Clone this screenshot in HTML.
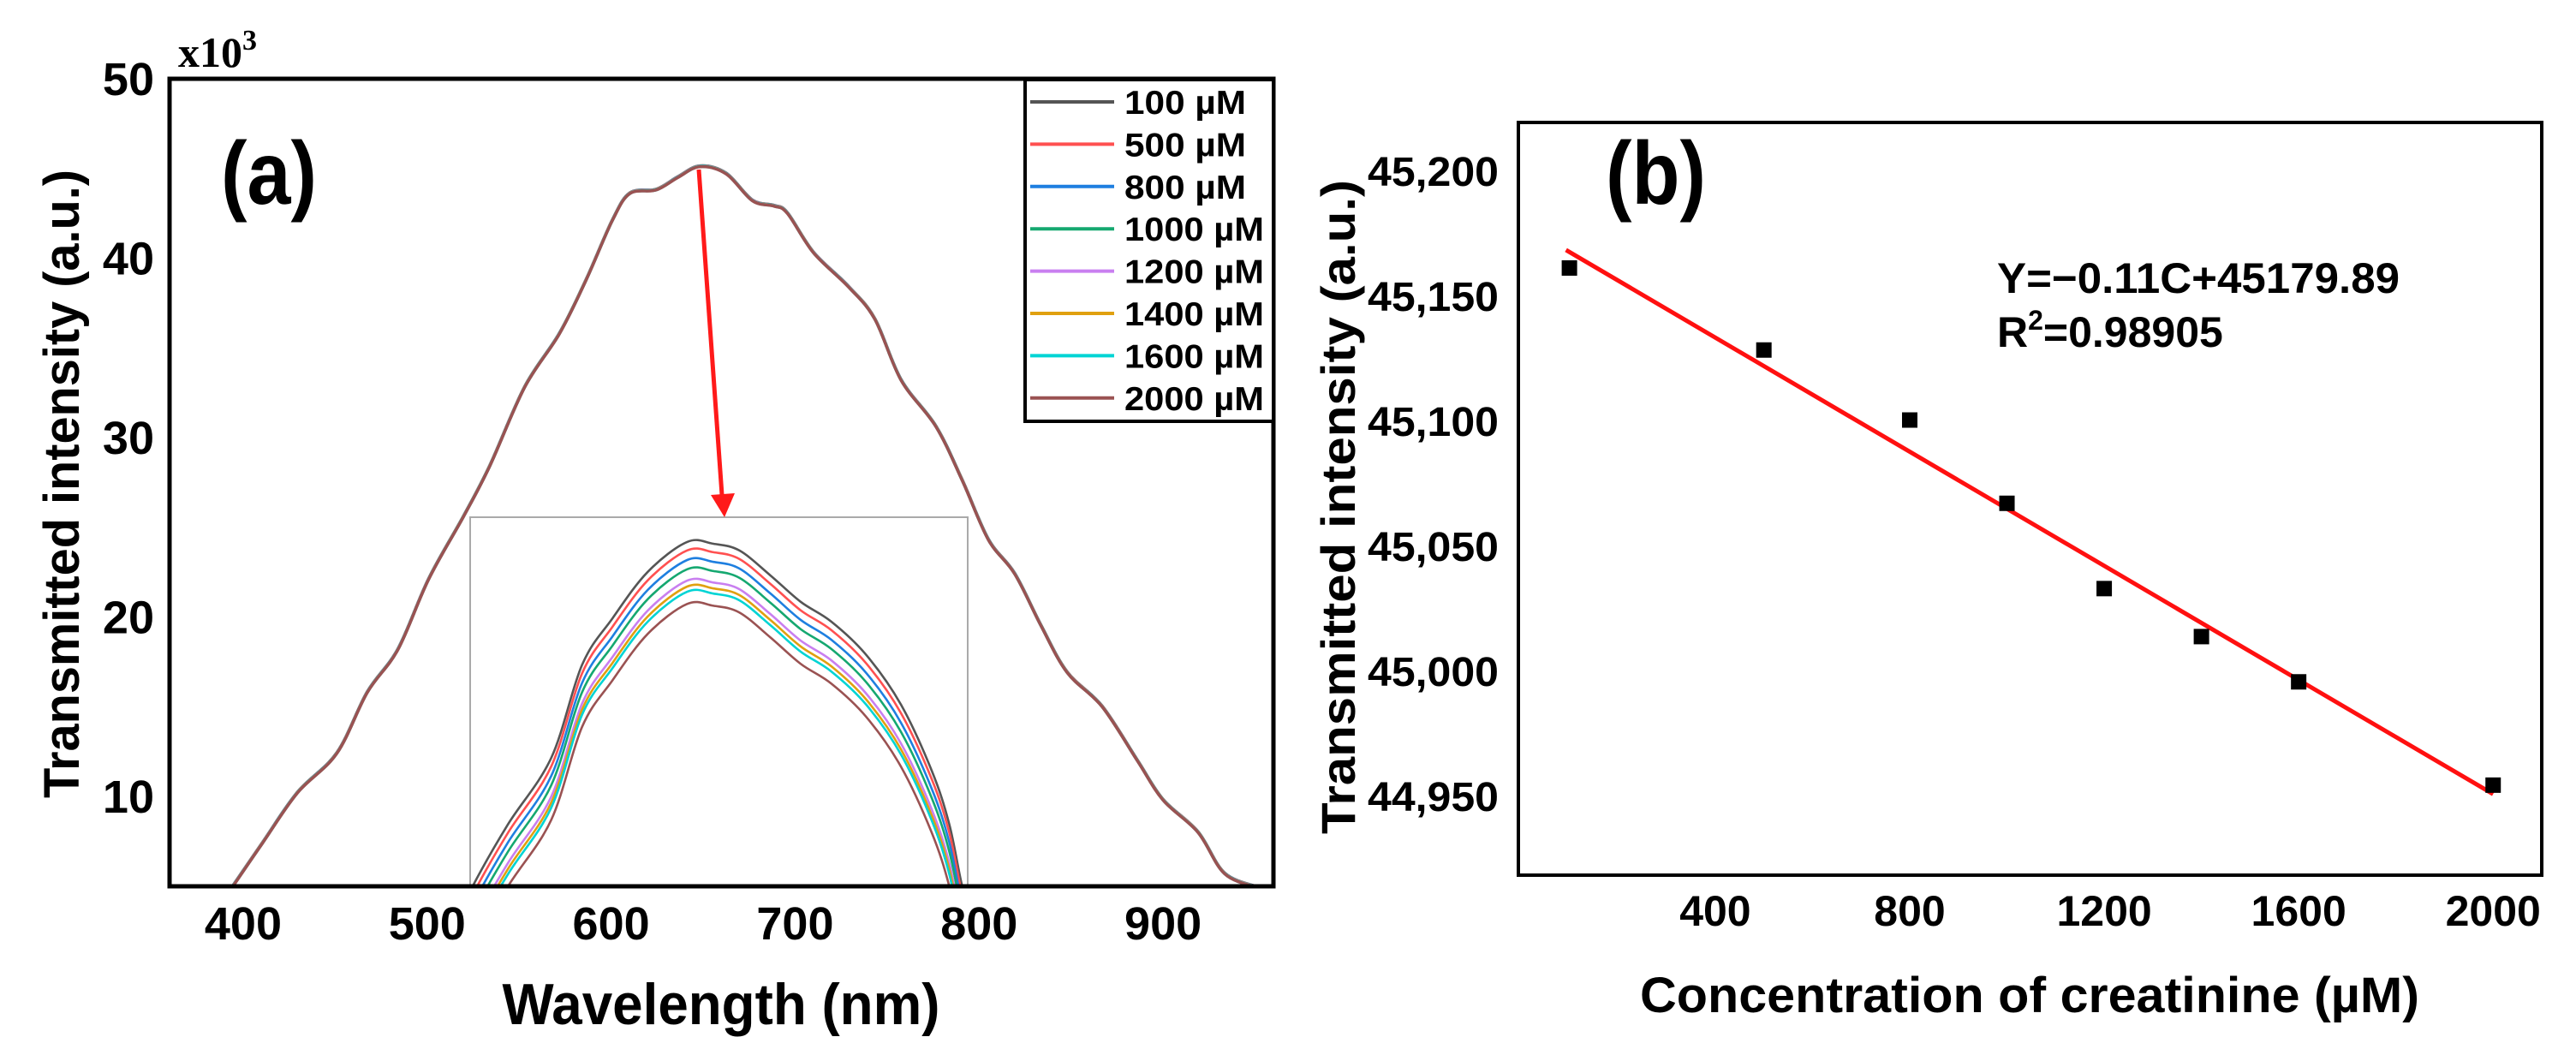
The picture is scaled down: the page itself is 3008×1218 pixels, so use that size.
<!DOCTYPE html>
<html><head><meta charset="utf-8"><style>
html,body{margin:0;padding:0;background:#fff;}
svg{display:block;font-family:"Liberation Sans",Arial,sans-serif;font-weight:bold;}
</style></head><body>
<svg id="fig" width="3008" height="1218" viewBox="0 0 3008 1218" xmlns="http://www.w3.org/2000/svg">
<g id="pa"></g>
<g id="pb"></g>
</svg>
<script>
// ---------- Panel (a) data ----------
const aWavelength=[393.8,410.5,429.5,450.9,467.5,484.2,500.8,519.8,534,553,572,586.5,600.7,610.2,624.5,636.3,648.2,662.5,676.8,688.6,695.8,710,729,743.3,757.6,776.6,790.9,805.1,819.4,833.7,847.9,866.9,886,900,919,933.4,952];
const aIntensity=[4.9,7.4,10.2,12.4,15.8,18.2,22.1,25.6,28.4,32.8,35.8,38.8,42.1,43.6,43.8,44.5,45.1,44.7,43.2,42.9,42.5,40.3,38.4,36.6,33.2,30.6,27.6,24.3,22.4,19.5,16.9,15,12,9.8,8,5.7,4.9];
const aXTicks=[400,500,600,700,800,900];
const aYTicks=[10,20,30,40,50];
const seriesLabels=["100 µM","500 µM","800 µM","1000 µM","1200 µM","1400 µM","1600 µM","2000 µM"];
const seriesColors=["#555555","#ff5050","#1e7fe0","#15a870","#c97ff0","#e0a010","#00d4d4","#9a5252"];
// inset (zoomed) curve, relative units 0-100
const insetX=[-2,0.5,7.6,16.3,22.5,28.6,35.7,43.6,48.9,54.1,60.3,66.4,72.6,79.6,86.6,92.8,96.3,98.9,101];
const insetY=[-8,0,16.8,34.8,60,72.6,85.2,93.3,92.8,91,84.3,77.1,71.7,62.7,49.2,31.2,16.8,0,-8];
const insetOffsets=[0,-2.3,-4.9,-7.4,-10.5,-12.1,-13.5,-16.8];
// ---------- Panel (b) data ----------
const bConc=[100,500,800,1000,1200,1400,1600,2000];
const bIntensity=[45161.3,45128.5,45100.5,45067.2,45033.1,45013.9,44995.8,44954.5];
const bXTicks=[400,800,1200,1600,2000];
const bYTicks=[44950,45000,45050,45100,45150,45200];
const bYTickLabels=["44,950","45,000","45,050","45,100","45,150","45,200"];

const NS="http://www.w3.org/2000/svg";
function mk(parent,tag,attrs,text){const e=document.createElementNS(NS,tag);for(const k in attrs)e.setAttribute(k,attrs[k]);if(text!==undefined)e.textContent=text;parent.appendChild(e);return e;}
function smooth(pts){
  let d='M'+pts[0][0].toFixed(1)+','+pts[0][1].toFixed(1);
  for(let i=0;i<pts.length-1;i++){
    const p0=pts[Math.max(0,i-1)],p1=pts[i],p2=pts[i+1],p3=pts[Math.min(pts.length-1,i+2)];
    const c1=[p1[0]+(p2[0]-p0[0])/6,p1[1]+(p2[1]-p0[1])/6];
    const c2=[p2[0]-(p3[0]-p1[0])/6,p2[1]-(p3[1]-p1[1])/6];
    d+=' C'+c1[0].toFixed(1)+','+c1[1].toFixed(1)+' '+c2[0].toFixed(1)+','+c2[1].toFixed(1)+' '+p2[0].toFixed(1)+','+p2[1].toFixed(1);
  }
  return d;
}

// ----- Panel a -----
const pa=document.getElementById('pa');
const A={l:198,r:1487,t:92,b:1035,x0:360,x1:960,y0:5,y1:50};
const ax=v=>A.l+(v-A.x0)/(A.x1-A.x0)*(A.r-A.l);
const ay=v=>A.b-(v-A.y0)/(A.y1-A.y0)*(A.b-A.t);
const defs=mk(pa,'defs',{});
mk(mk(defs,'clipPath',{id:'clipA'}),'rect',{x:A.l,y:A.t,width:A.r-A.l,height:A.b-A.t});
const mainG=mk(pa,'g',{'clip-path':'url(#clipA)'});


seriesColors.forEach((c,i)=>{
  const pts=aWavelength.map((w,j)=>[ax(w),ay(aIntensity[j])-(7-i)*0.15]);
  const p=mk(mainG,'path',{d:smooth(pts),fill:'none',stroke:c,'stroke-width':3.5,'stroke-linejoin':'round'});
  
  
});
// inset
const I={l:549,r:1130,t:604,b:1035};
const ix=v=>I.l+v/100*(I.r-I.l);
const iy=v=>I.b-v/100*(I.b-I.t);
const insetG=mk(pa,'g',{});


mk(mk(defs,'clipPath',{id:'clipI'}),'rect',{x:I.l,y:I.t,width:I.r-I.l,height:I.b-I.t});
mk(insetG,'rect',{x:I.l,y:I.t,width:I.r-I.l,height:I.b-I.t,fill:'none',stroke:'#aaa','stroke-width':2});
const ic=mk(insetG,'g',{'clip-path':'url(#clipI)'});
seriesColors.forEach((c,i)=>{
  const pts=insetX.map((x,j)=>[ix(x),iy(insetY[j]+insetOffsets[i])]);
  const p=mk(ic,'path',{d:smooth(pts),fill:'none',stroke:c,'stroke-width':2.6,'stroke-linejoin':'round'});
  
  
});
// arrow
const arr=mk(pa,'g',{});


mk(arr,'line',{x1:816,y1:198,x2:843,y2:578,stroke:'#ff1a1a','stroke-width':5});
mk(arr,'polygon',{points:'830,578 858,576 846,604',fill:'#ff1a1a'});
// axes frame
const fa=mk(pa,'rect',{x:A.l,y:A.t,width:A.r-A.l,height:A.b-A.t,fill:'none',stroke:'#000','stroke-width':5});


aXTicks.forEach(v=>{const t=mk(pa,'text',{x:ax(v),y:1097,'font-size':54,'text-anchor':'middle'},String(v));

});
aYTicks.forEach(v=>{const t=mk(pa,'text',{x:180,y:ay(v)+19,'font-size':54,'text-anchor':'end'},String(v));

});
const sc=mk(pa,'text',{x:208,y:78,'font-size':50,'font-family':'Liberation Serif, serif'});


sc.innerHTML='x10<tspan dy="-20" font-size="34">3</tspan>';
const yta=mk(pa,'text',{x:0,y:0,'font-size':58,'text-anchor':'middle',transform:'translate(92,565) rotate(-90)',textLength:734,lengthAdjust:'spacingAndGlyphs'},'Transmitted intensity (a.u.)');


const xta=mk(pa,'text',{x:842,y:1196,'font-size':68,'text-anchor':'middle',textLength:511,lengthAdjust:'spacingAndGlyphs'},'Wavelength (nm)');


const la=mk(pa,'text',{x:258,y:238,'font-size':104,textLength:112,lengthAdjust:'spacingAndGlyphs'},'(a)');


// legend
const lg=mk(pa,'g',{});


mk(lg,'rect',{x:1197,y:93,width:290,height:399,fill:'#fff',stroke:'#000','stroke-width':4});
seriesLabels.forEach((s,i)=>{
  const y=119+i*49.4;
  const e=mk(lg,'g',{});
  
  
  mk(e,'line',{x1:1203,y1:y,x2:1301,y2:y,stroke:seriesColors[i],'stroke-width':4});
  mk(e,'text',{x:1313,y:y+14,'font-size':39,textLength:s.length>6?163:142,lengthAdjust:'spacingAndGlyphs'},s);
});

// ----- Panel b -----
const pb=document.getElementById('pb');
const B={l:1773,r:2968,t:143,b:1022,x0:-5,x1:2100,y0:44918.5,y1:45219.5};
const bx=v=>B.l+(v-B.x0)/(B.x1-B.x0)*(B.r-B.l);
const by=v=>B.b-(v-B.y0)/(B.y1-B.y0)*(B.b-B.t);
const fb=mk(pb,'rect',{x:B.l,y:B.t,width:B.r-B.l,height:B.b-B.t,fill:'none',stroke:'#000','stroke-width':4});


// regression
const n=bConc.length,mx=bConc.reduce((a,b)=>a+b)/n,my=bIntensity.reduce((a,b)=>a+b)/n;
let sxy=0,sxx=0;bConc.forEach((c,i)=>{sxy+=(c-mx)*(bIntensity[i]-my);sxx+=(c-mx)*(c-mx);});
const slope=sxy/sxx,icpt=my-slope*mx;
const xmin=Math.min(...bConc),xmax=Math.max(...bConc);
const fit=mk(pb,'line',{x1:bx(xmin)-4,y1:by(icpt+slope*xmin),x2:bx(xmax),y2:by(icpt+slope*xmax),stroke:'#ff1010','stroke-width':5});


bConc.forEach((c,i)=>{
  const r=mk(pb,'rect',{x:bx(c)-9,y:by(bIntensity[i])-9,width:18,height:18,fill:'#000'});
  
  
});
bXTicks.forEach(v=>{const t=mk(pb,'text',{x:bx(v),y:1081,'font-size':50,'text-anchor':'middle'},String(v));

});
bYTicks.forEach((v,i)=>{const t=mk(pb,'text',{x:1750,y:by(v)+17,'font-size':48,'text-anchor':'end',textLength:153,lengthAdjust:'spacingAndGlyphs'},bYTickLabels[i]);

});
const ytb=mk(pb,'text',{x:0,y:0,'font-size':56,'text-anchor':'middle',transform:'translate(1582,592) rotate(-90)',textLength:764,lengthAdjust:'spacingAndGlyphs'},'Transmitted intensity (a.u.)');


const xtb=mk(pb,'text',{x:2370,y:1182,'font-size':58,'text-anchor':'middle',textLength:910,lengthAdjust:'spacingAndGlyphs'},'Concentration of creatinine (µM)');


const lb=mk(pb,'text',{x:1875,y:238,'font-size':104,textLength:117,lengthAdjust:'spacingAndGlyphs'},'(b)');


const eq=mk(pb,'text',{x:2332,y:342,'font-size':50,textLength:470,lengthAdjust:'spacingAndGlyphs'},'Y=−0.11C+45179.89');


const r2=mk(pb,'text',{x:2332,y:405,'font-size':50});


r2.innerHTML='R<tspan dy="-20" font-size="32">2</tspan><tspan dy="20">=0.98905</tspan>';
</script>
</body></html>
